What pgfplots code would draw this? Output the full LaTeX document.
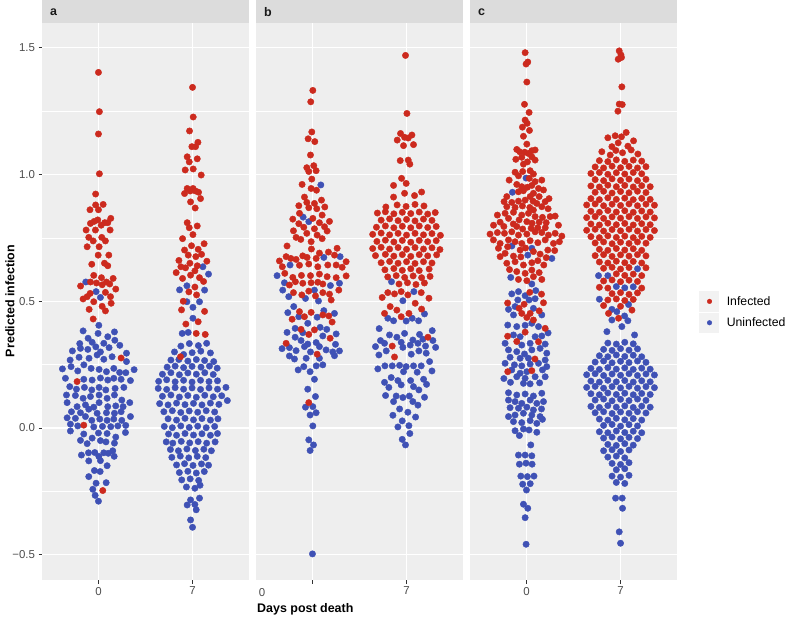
\documentclass[border=0pt]{standalone}
\usepackage{pgfplots}
\pgfplotsset{compat=1.18}
\usepackage{fontspec}
\setmainfont{Liberation Sans}
\definecolor{inf}{HTML}{CC2A1E}
\definecolor{uninf}{HTML}{3F51B5}
\definecolor{panelbg}{HTML}{EEEEEE}
\definecolor{stripbg}{HTML}{DCDCDC}
\definecolor{ticklab}{HTML}{4D4D4D}
\definecolor{tickcol}{HTML}{333333}
\definecolor{keybg}{HTML}{F2F2F2}
\pgfplotsset{
 facet/.style={
  scale only axis, width=207bp, height=557bp,
  xmin=0.4, xmax=2.6, ymin=-0.6, ymax=1.598,
  axis line style={draw=none},
  axis background/.style={fill=panelbg},
  xtick={1,2}, xticklabels={0,7},
  ytick={-0.5,0,0.5,1,1.5},
  minor ytick={-0.25,0.25,0.75,1.25},
  xmajorgrids, ymajorgrids, yminorgrids,
  major grid style={white, line width=1.1bp},
  minor grid style={white, line width=0.55bp},
  tick style={tickcol, line width=0.8bp},
  tick align=outside, major tick length=3.5bp, minor tick length=0pt,
  xtick pos=bottom, ytick pos=left,
  ticklabel style={font=\fontsize{11.5}{13}\selectfont, text=ticklab},
 },
 infp/.style={only marks, mark=*, color=inf, mark size=3.2bp, mark options={solid, line width=0.4pt}},
 uninfp/.style={only marks, mark=*, color=uninf, mark size=3.2bp, mark options={solid, line width=0.4pt}},
}
\begin{document}
\begin{tikzpicture}
\useasboundingbox (0,0) rectangle (787bp,618bp);
% strips
\fill[stripbg] (42bp,595bp) rectangle (249bp,618bp);
\fill[stripbg] (256bp,595bp) rectangle (463bp,618bp);
\fill[stripbg] (470bp,595bp) rectangle (677bp,618bp);
\node[anchor=west, inner sep=0pt, text=black!90, font=\bfseries\fontsize{12.5}{14}\selectfont] at (50bp,605.5bp) {a};
\node[anchor=west, inner sep=0pt, text=black!90, font=\bfseries\fontsize{12.5}{14}\selectfont] at (264bp,605.5bp) {b};
\node[anchor=west, inner sep=0pt, text=black!90, font=\bfseries\fontsize{12.5}{14}\selectfont] at (478bp,605.5bp) {c};
% titles
\node[rotate=90, inner sep=0pt, font=\bfseries\fontsize{12.5}{14}\selectfont] at (10bp,317bp) {Predicted infection};
\node[anchor=west, inner sep=0pt, font=\bfseries\fontsize{12.5}{14}\selectfont] at (257bp,9bp) {Days post death};
\node[inner sep=0pt, text=ticklab, font=\fontsize{11.5}{13}\selectfont] at (262bp,25bp) {0};
% legend key backgrounds
\fill[keybg] (699bp,306bp) rectangle (719bp,327bp);
\fill[keybg] (699bp,285bp) rectangle (719bp,305bp);

% ---------------- panel a ----------------
\begin{axis}[facet, at={(42bp,38bp)}, anchor=south west,
  yticklabels={−0.5,0.0,0.5,1.0,1.5}]
\addplot[uninfp] coordinates {
(0.865,0.576) (0.975,0.538) (1.021,0.515)
(1.004,0.405)
(0.837,0.383) (1.170,0.379) (0.996,0.373)
(0.890,0.354) (1.099,0.360) (0.933,0.338) (1.057,0.334) (1.174,0.346) (0.801,0.333)
(0.723,0.304) (0.809,0.314) (0.887,0.310) (0.972,0.320) (1.021,0.300) (1.113,0.317) (1.227,0.326) (1.298,0.295)
(0.699,0.268) (0.794,0.279) (0.900,0.275) (0.986,0.288) (1.057,0.271) (1.145,0.281) (1.298,0.262)
(0.617,0.233) (0.709,0.242) (0.780,0.225) (0.845,0.249) (0.922,0.235) (1.007,0.231) (1.085,0.222) (1.163,0.235) (1.225,0.219) (1.291,0.218) (1.379,0.230)
(0.649,0.196) (0.844,0.192) (0.933,0.189) (1.021,0.197) (1.099,0.189) (1.163,0.196) (1.241,0.192) (1.340,0.187)
(0.695,0.163) (0.766,0.153) (0.851,0.160) (0.929,0.150) (1.007,0.160) (1.078,0.150) (1.177,0.156) (1.270,0.160)
(0.755,0.128) (0.837,0.117) (0.915,0.124) (1.007,0.130) (1.092,0.117) (1.170,0.130) (1.248,0.110) (0.660,0.130)
(0.667,0.100) (0.773,0.084) (0.862,0.091) (0.950,0.082) (1.007,0.100) (1.099,0.084) (1.184,0.087) (1.333,0.100) (1.262,0.084)
(0.713,0.064) (0.809,0.060) (0.897,0.074) (0.986,0.058) (1.085,0.060) (1.170,0.058) (1.241,0.064)
(0.667,0.040) (0.755,0.038) (0.862,0.045) (0.929,0.030) (1.014,0.035) (1.092,0.030) (1.163,0.035) (1.248,0.030) (1.340,0.045)
(0.702,0.015) (0.780,0.008) (0.950,0.004) (1.043,0.006) (1.131,0.005) (1.206,0.008) (1.290,0.010)
(0.702,-0.012) (1.287,-0.018) (1.092,-0.022) (1.000,-0.020)
(0.844,-0.024) (0.933,-0.040) (1.184,-0.036)
(0.809,-0.049) (1.021,-0.050) (1.170,-0.060) (1.080,-0.055) (0.880,-0.062)
(1.152,-0.090) (1.057,-0.098) (0.894,-0.098) (0.961,-0.097) (0.819,-0.107) (1.004,-0.112) (1.167,-0.112) (1.105,-0.100)
(0.897,-0.130) (1.021,-0.129) (1.092,-0.149)
(0.957,-0.168) (1.018,-0.172) (0.897,-0.192)
(0.975,-0.218) (1.082,-0.216) (0.940,-0.242) (0.965,-0.266) (1.000,-0.289)
(2.110,0.636) (2.170,0.607) (1.862,0.545) (1.940,0.561) (2.128,0.544) (1.940,0.498) (2.074,0.498) (2.004,0.476) (2.004,0.433) (1.954,0.377) (1.890,0.373)
(1.876,0.323) (1.966,0.333) (2.062,0.325) (2.150,0.334)
(1.808,0.300) (1.905,0.290) (1.996,0.297) (2.088,0.303) (2.190,0.296)
(1.770,0.268) (1.855,0.270) (1.950,0.264) (2.040,0.270) (2.128,0.266) (2.225,0.262)
(1.730,0.240) (1.815,0.244) (1.905,0.238) (1.995,0.243) (2.090,0.240) (2.180,0.244) (2.262,0.236)
(1.680,0.212) (1.770,0.218) (1.860,0.210) (1.950,0.217) (2.040,0.212) (2.130,0.218) (2.220,0.211)
(1.640,0.184) (1.725,0.190) (1.815,0.182) (1.905,0.188) (1.995,0.181) (2.085,0.188) (2.175,0.183) (2.265,0.186)
(1.635,0.156) (1.725,0.152) (1.815,0.159) (1.905,0.153) (1.995,0.158) (2.085,0.152) (2.175,0.158) (2.265,0.153) (2.355,0.160)
(1.680,0.125) (1.770,0.130) (1.860,0.122) (1.950,0.128) (2.040,0.121) (2.130,0.129) (2.220,0.123) (2.310,0.127) (2.370,0.108)
(1.650,0.096) (1.740,0.091) (1.830,0.098) (1.920,0.092) (2.010,0.097) (2.100,0.091) (2.190,0.098) (2.280,0.093)
(1.695,0.064) (1.785,0.068) (1.875,0.061) (1.965,0.067) (2.055,0.062) (2.145,0.068) (2.235,0.063)
(1.740,0.036) (1.830,0.031) (1.920,0.038) (2.010,0.032) (2.100,0.037) (2.190,0.031) (2.270,0.036)
(1.700,0.006) (1.785,0.001) (1.875,0.008) (1.965,0.002) (2.055,0.007) (2.145,0.001) (2.235,0.006)
(1.745,-0.024) (1.830,-0.029) (1.920,-0.022) (2.010,-0.028) (2.100,-0.023) (2.190,-0.029) (2.265,-0.022)
(1.720,-0.055) (1.790,-0.060) (1.880,-0.053) (1.970,-0.059) (2.060,-0.054) (2.150,-0.060) (2.240,-0.055)
(1.765,-0.085) (1.850,-0.090) (1.940,-0.083) (2.030,-0.089) (2.120,-0.084) (2.200,-0.090)
(1.780,-0.116) (1.870,-0.111) (1.960,-0.118) (2.050,-0.112) (2.140,-0.117)
(1.830,-0.146) (1.915,-0.141) (2.005,-0.148) (2.095,-0.142) (2.170,-0.147)
(1.860,-0.176) (1.950,-0.171) (2.040,-0.178) (2.125,-0.172)
(1.885,-0.205) (1.975,-0.201) (2.065,-0.207)
(1.935,-0.233) (2.025,-0.238) (2.080,-0.226)
(1.979,-0.284) (2.025,-0.302) (1.943,-0.304) (2.074,-0.277) (2.039,-0.323) (1.979,-0.363) (2.000,-0.392)
};
\addplot[infp] coordinates {
(1.00,1.403) (1.01,1.248) (1.00,1.160) (1.01,1.003) (0.97,0.923) (0.97,0.880) (1.05,0.882) (0.91,0.861) (1.00,0.861)
(0.915,0.807) (0.954,0.815) (0.993,0.821) (1.029,0.800) (1.067,0.810) (1.099,0.810) (1.131,0.827)
(0.869,0.781) (0.968,0.781) (1.124,0.781)
(0.897,0.752) (0.944,0.738) (1.035,0.752) (1.074,0.738)
(0.880,0.715) (1.007,0.715) (0.997,0.682) (1.110,0.682)
(0.929,0.646) (1.064,0.650) (1.099,0.640)
(0.950,0.602) (1.032,0.593) (1.156,0.590) (0.915,0.576) (0.979,0.572) (1.085,0.576) (1.120,0.568) (1.040,0.565)
(0.810,0.560) (1.184,0.548) (0.912,0.531) (1.074,0.535) (0.880,0.518) (1.128,0.518) (0.837,0.509) (0.950,0.498) (1.135,0.492) (1.039,0.480) (1.074,0.462) (0.901,0.468) (0.944,0.430)
(1.241,0.276) (0.773,0.183) (0.844,0.011) (1.046,-0.247)
(2.0,1.344) (2.007,1.227) (1.968,1.172) (1.993,1.110) (2.032,1.110) (2.057,1.127) (1.943,1.070) (1.965,1.050) (2.050,1.062) (1.922,1.018) (2.007,1.022) (2.092,0.998)
(1.915,0.925) (1.943,0.945) (1.975,0.935) (2.005,0.945) (2.032,0.935) (2.064,0.930) (2.085,0.905) (1.979,0.892) (2.028,0.868)
(1.943,0.810) (1.965,0.790) (2.050,0.797) (1.894,0.747) (2.004,0.763)
(1.915,0.702) (1.989,0.719) (2.123,0.727) (2.060,0.705) (2.096,0.685) (1.954,0.682)
(1.855,0.661) (1.876,0.636) (1.926,0.632) (1.972,0.650) (2.035,0.676) (2.152,0.658) (2.050,0.640)
(1.826,0.613) (1.894,0.590) (1.979,0.603) (2.025,0.620) (2.074,0.593) (2.117,0.578)
(1.961,0.537) (2.025,0.556) (2.043,0.525) (1.901,0.500) (1.883,0.466) (2.128,0.460)
(1.929,0.410) (2.060,0.419) (2.039,0.373) (2.135,0.369) (1.872,0.281)
};
\end{axis}

% ---------------- panel b ----------------
\begin{axis}[facet, at={(256bp,38bp)}, anchor=south west,
  yticklabels={}, ytick style={draw=none}, xticklabels={{},7}]
\addplot[uninfp] coordinates {
(1.089,0.959) (0.901,0.832) (0.961,0.814)
(1.121,0.673) (1.294,0.676) (0.762,0.643) (0.624,0.601) (0.702,0.573) (1.191,0.562) (1.287,0.571) (0.684,0.544) (1.021,0.544) (0.748,0.518) (0.926,0.511) (1.064,0.501)
(0.801,0.479) (0.738,0.455) (0.855,0.439) (0.950,0.413) (1.050,0.437) (1.121,0.463) (1.234,0.452) (0.816,0.393) (0.730,0.377) (0.897,0.376) (1.082,0.397) (1.152,0.389) (1.252,0.371)
(0.816,0.358) (0.879,0.345) (0.950,0.331) (1.039,0.337) (1.110,0.363) (1.245,0.330) (0.677,0.313) (0.755,0.317) (0.826,0.305) (0.915,0.321) (0.979,0.300) (1.074,0.321) (1.145,0.308) (1.216,0.300) (1.287,0.304)
(0.755,0.284) (0.809,0.272) (0.933,0.275) (1.074,0.275) (1.234,0.285) (0.848,0.229) (0.908,0.242) (0.975,0.222) (1.040,0.245) (1.110,0.249)
(1.021,0.192) (0.950,0.153) (1.032,0.124) (0.926,0.082) (1.004,0.084) (0.975,0.051) (1.039,0.060) (1.004,0.008) (0.961,-0.047) (1.011,-0.067) (0.975,-0.089) (1.000,-0.497)
(1.840,0.577) (1.961,0.502) (2.078,0.538) (1.801,0.433) (1.862,0.423) (1.996,0.422) (2.060,0.433) (2.128,0.423) (2.191,0.450)
(1.709,0.392) (1.819,0.367) (1.897,0.358) (1.979,0.373) (2.138,0.369) (2.273,0.384) (1.723,0.345) (1.766,0.334) (1.943,0.338) (2.067,0.347) (2.174,0.350) (2.280,0.345)
(1.670,0.321) (1.784,0.304) (1.961,0.318) (2.039,0.327) (2.121,0.334) (2.202,0.323) (2.309,0.318) (1.706,0.288) (2.050,0.291) (2.131,0.304) (2.209,0.295) (2.245,0.262)
(1.695,0.233) (1.770,0.245) (1.848,0.245) (1.926,0.247) (1.996,0.242) (2.074,0.245) (2.156,0.245) (2.270,0.225) (1.968,0.222) (2.113,0.220)
(1.837,0.199) (1.766,0.180) (1.908,0.187) (2.043,0.187) (2.181,0.192) (1.812,0.160) (1.943,0.170) (2.074,0.163) (2.213,0.172) (2.131,0.150)
(1.777,0.128) (1.890,0.126) (1.961,0.120) (2.030,0.126) (2.191,0.121) (1.862,0.104) (2.067,0.104) (2.121,0.090) (1.926,0.075) (2.014,0.062) (1.855,0.050) (2.096,0.043)
(1.908,0.004) (1.954,0.028) (2.025,0.009) (2.035,-0.022) (1.954,-0.045) (1.989,-0.067)
};
\addplot[infp] coordinates {
(1.004,1.332) (0.982,1.287) (0.993,1.168) (0.954,1.141) (1.025,1.130) (0.979,1.077) (0.940,1.027) (1.014,1.035) (0.961,1.012) (1.039,1.015)
(0.890,0.961) (0.993,0.982) (0.986,0.945) (1.043,0.938)
(0.915,0.911) (1.096,0.899) (0.940,0.890) (1.021,0.886) (0.855,0.877) (0.961,0.869) (1.046,0.865) (1.131,0.872)
(0.862,0.847) (1.103,0.840) (0.791,0.824) (1.004,0.827) (1.074,0.810) (1.181,0.815) (0.855,0.806) (0.908,0.792) (1.021,0.786) (1.128,0.794) (0.798,0.778) (0.940,0.768) (1.156,0.777) (1.050,0.761) (0.826,0.752) (0.876,0.744) (1.103,0.747) (0.986,0.735)
(0.730,0.718) (1.262,0.709) (0.989,0.706)
(0.649,0.659) (0.720,0.676) (0.770,0.669) (0.826,0.665) (0.897,0.679) (0.943,0.673) (1.039,0.669) (1.074,0.690) (1.170,0.694) (1.234,0.682) (1.358,0.656)
(0.680,0.636) (0.862,0.642) (0.961,0.647) (1.057,0.636) (1.163,0.643) (1.252,0.643) (1.316,0.634)
(0.706,0.610) (0.791,0.594) (0.883,0.602) (0.979,0.601) (1.074,0.607) (1.156,0.597) (1.252,0.593) (1.358,0.600)
(0.755,0.564) (0.819,0.577) (0.897,0.571) (0.986,0.573) (1.057,0.575) (1.110,0.568)
(0.798,0.534) (0.887,0.525) (0.961,0.540) (1.110,0.534) (1.181,0.528) (1.280,0.544) (1.032,0.521) (1.199,0.505)
(0.862,0.459) (0.986,0.456) (0.915,0.439) (1.110,0.446) (1.174,0.442) (1.209,0.418) (0.784,0.429) (0.879,0.389) (0.961,0.369) (1.021,0.387) (0.720,0.334) (1.188,0.354) (1.050,0.291) (0.961,0.100)
(1.989,1.470) (2.004,1.241) (1.936,1.162) (1.979,1.147) (2.018,1.144) (2.057,1.156) (1.901,1.136) (1.968,1.114) (2.074,1.118) (1.933,1.055) (2.018,1.057) (2.035,1.041) (1.947,0.985) (1.996,0.965) (1.862,0.957) (1.979,0.926) (2.085,0.917) (2.160,0.931) (1.862,0.911)
(1.780,0.872) (1.900,0.880) (1.995,0.874) (2.090,0.882) (2.185,0.876)
(1.690,0.848) (1.775,0.853) (1.865,0.845) (1.955,0.851) (2.045,0.846) (2.135,0.852) (2.225,0.844) (2.305,0.850)
(1.730,0.820) (1.820,0.825) (1.910,0.818) (2.000,0.823) (2.090,0.817) (2.180,0.824) (2.270,0.819)
(1.680,0.792) (1.775,0.797) (1.865,0.790) (1.955,0.796) (2.045,0.790) (2.135,0.797) (2.225,0.791) (2.315,0.795)
(1.640,0.764) (1.730,0.769) (1.820,0.762) (1.910,0.768) (2.000,0.761) (2.090,0.768) (2.180,0.762) (2.270,0.767) (2.360,0.760)
(1.685,0.736) (1.775,0.741) (1.865,0.734) (1.955,0.740) (2.045,0.733) (2.135,0.740) (2.225,0.735) (2.315,0.739)
(1.640,0.708) (1.730,0.713) (1.820,0.706) (1.910,0.712) (2.000,0.705) (2.090,0.712) (2.180,0.706) (2.270,0.711) (2.355,0.704)
(1.670,0.680) (1.775,0.685) (1.865,0.678) (1.955,0.684) (2.045,0.677) (2.135,0.684) (2.225,0.679) (2.320,0.683)
(1.730,0.652) (1.820,0.657) (1.910,0.650) (2.000,0.656) (2.090,0.649) (2.180,0.656) (2.270,0.651)
(1.770,0.624) (1.865,0.629) (1.955,0.622) (2.045,0.628) (2.135,0.621) (2.240,0.627)
(1.800,0.596) (1.890,0.601) (1.980,0.594) (2.070,0.600) (2.160,0.593) (2.250,0.598)
(1.920,0.568) (2.010,0.573) (2.100,0.566) (2.190,0.572)
(1.801,0.534) (1.872,0.529) (1.943,0.538) (2.014,0.525) (2.156,0.534) (1.741,0.515) (2.238,0.512) (2.092,0.492) (1.826,0.479) (1.897,0.465) (1.766,0.452) (2.025,0.452) (2.160,0.469) (1.943,0.439)
(1.848,0.323) (1.872,0.280) (2.227,0.358)
};
\end{axis}

% ---------------- panel c ----------------
\begin{axis}[facet, at={(470bp,38bp)}, anchor=south west,
  yticklabels={}, ytick style={draw=none},
  legend style={at={(1.145,0.481)}, anchor=west, draw=none, fill=none,
    font=\fontsize{12.3}{14}\selectfont, row sep=7bp, inner sep=0pt},
  legend cell align=left,
  legend image code/.code={\draw[#1, mark size=2.3bp] plot coordinates {(0bp,0bp)};}]
\addlegendimage{infp}
\addlegendentry{\hspace{13bp}Infected}
\addlegendimage{uninfp}
\addlegendentry{\hspace{13bp}Uninfected}
\addplot[uninfp, forget plot] coordinates {
(0.996,0.986) (0.851,0.930) (0.845,0.718) (1.270,0.669) (1.014,0.682) (1.057,0.709) (0.833,0.594) (1.057,0.568) (1.099,0.542)
(0.844,0.529) (0.915,0.538) (0.986,0.522) (0.908,0.505) (1.028,0.505) (1.092,0.510) (0.809,0.468) (0.879,0.479) (1.163,0.446) (0.862,0.446) (1.074,0.472)
(0.801,0.406) (0.897,0.400) (0.986,0.405) (1.057,0.413) (1.128,0.400) (0.862,0.367) (0.933,0.360) (1.092,0.360) (1.163,0.363) (0.950,0.327) (1.039,0.334) (1.199,0.331) (0.773,0.334) (1.230,0.375)
(0.809,0.308) (0.897,0.301) (0.979,0.292) (1.057,0.308) (1.145,0.314) (1.216,0.295) (0.826,0.279) (0.933,0.275) (1.021,0.275) (1.199,0.268)
(0.773,0.255) (0.872,0.249) (0.950,0.245) (1.039,0.252) (1.128,0.255) (1.216,0.242) (0.844,0.229) (0.933,0.216) (1.004,0.222) (1.170,0.229)
(0.897,0.202) (0.986,0.196) (1.092,0.202) (1.199,0.202) (0.760,0.195) (0.968,0.176) (1.039,0.174) (0.830,0.180) (1.140,0.178)
(0.809,0.139) (0.897,0.130) (0.986,0.134) (1.074,0.126) (1.163,0.137) (0.809,0.110) (0.879,0.104) (0.950,0.097) (1.039,0.110) (1.110,0.097) (1.181,0.104)
(0.826,0.080) (0.915,0.078) (1.004,0.082) (1.074,0.071) (1.160,0.075)
(0.809,0.045) (0.879,0.051) (0.968,0.058) (1.057,0.051) (1.145,0.045)
(0.862,0.025) (0.950,0.021) (1.039,0.029) (1.110,0.018) (1.170,0.034)
(0.879,-0.011) (0.925,-0.030) (0.968,-0.004) (1.028,-0.008) (1.110,-0.017) (1.046,-0.067)
(0.915,-0.107) (0.986,-0.107) (1.057,-0.110) (0.925,-0.143) (0.995,-0.139) (1.060,-0.143)
(0.940,-0.190) (1.010,-0.192) (1.080,-0.190) (0.960,-0.222) (1.040,-0.220) (1.000,-0.245)
(0.968,-0.301) (1.014,-0.317) (0.986,-0.354) (0.996,-0.459)
(1.766,0.601) (1.865,0.601) (2.180,0.628) (1.955,0.558) (2.045,0.553) (2.135,0.557) (1.775,0.508)
(2.085,0.487) (1.908,0.468) (1.961,0.459) (2.043,0.442) (1.908,0.426) (2.014,0.400) (2.078,0.423) (1.855,0.380) (2.149,0.367)
(1.865,0.335) (1.955,0.331) (2.045,0.338) (2.135,0.332)
(1.820,0.310) (1.910,0.306) (2.000,0.313) (2.090,0.307) (2.180,0.312)
(1.775,0.285) (1.865,0.281) (1.955,0.288) (2.045,0.282) (2.135,0.287) (2.225,0.281)
(1.730,0.260) (1.820,0.264) (1.910,0.257) (2.000,0.263) (2.090,0.258) (2.180,0.264) (2.270,0.259)
(1.685,0.235) (1.775,0.231) (1.865,0.238) (1.955,0.232) (2.045,0.237) (2.135,0.231) (2.225,0.236) (2.315,0.232)
(1.640,0.210) (1.730,0.214) (1.820,0.207) (1.910,0.213) (2.000,0.208) (2.090,0.214) (2.180,0.207) (2.270,0.213) (2.360,0.209)
(1.685,0.185) (1.775,0.181) (1.865,0.188) (1.955,0.182) (2.045,0.187) (2.135,0.181) (2.225,0.186) (2.315,0.182)
(1.640,0.160) (1.730,0.164) (1.820,0.157) (1.910,0.163) (2.000,0.158) (2.090,0.164) (2.180,0.157) (2.270,0.163) (2.360,0.159)
(1.685,0.135) (1.775,0.131) (1.865,0.138) (1.955,0.132) (2.045,0.137) (2.135,0.131) (2.225,0.136) (2.315,0.132)
(1.730,0.110) (1.820,0.114) (1.910,0.107) (2.000,0.113) (2.090,0.108) (2.180,0.114) (2.270,0.109)
(1.685,0.085) (1.775,0.081) (1.865,0.088) (1.955,0.082) (2.045,0.087) (2.135,0.081) (2.225,0.086) (2.315,0.082)
(1.730,0.060) (1.820,0.064) (1.910,0.057) (2.000,0.063) (2.090,0.058) (2.180,0.064) (2.270,0.059)
(1.775,0.035) (1.865,0.031) (1.955,0.038) (2.045,0.032) (2.135,0.037) (2.225,0.031)
(1.820,0.010) (1.910,0.014) (2.000,0.007) (2.090,0.013) (2.180,0.008)
(1.775,-0.015) (1.865,-0.019) (1.955,-0.012) (2.045,-0.018) (2.135,-0.013) (2.225,-0.019)
(1.820,-0.040) (1.910,-0.036) (2.000,-0.043) (2.090,-0.037) (2.180,-0.042)
(1.865,-0.065) (1.955,-0.069) (2.045,-0.062) (2.135,-0.068)
(1.820,-0.090) (1.910,-0.086) (2.000,-0.093) (2.090,-0.087)
(1.865,-0.115) (1.955,-0.111) (2.045,-0.118)
(1.910,-0.140) (2.000,-0.144) (2.090,-0.137)
(1.955,-0.165) (2.045,-0.161)
(1.910,-0.190) (2.000,-0.194) (2.090,-0.187)
(1.955,-0.215) (2.045,-0.219)
(1.947,-0.277) (2.018,-0.277) (2.021,-0.317) (1.986,-0.410) (2.000,-0.455)
};
\addplot[infp, forget plot] coordinates {
(0.986,1.481) (0.996,1.436) (1.014,1.444) (1.004,1.365) (0.979,1.277) (1.028,1.245) (0.986,1.215) (1.007,1.202) (0.957,1.187) (1.032,1.174) (0.968,1.151) (1.004,1.120)
(0.897,1.099) (0.928,1.090) (0.982,1.088) (1.021,1.083) (1.057,1.094) (1.092,1.097) (0.950,1.068) (1.057,1.070) (0.887,1.060) (1.092,1.057) (0.968,1.041) (1.010,1.050)
(0.879,1.009) (0.915,0.995) (1.074,1.002) (1.039,1.015) (0.960,1.012)
(0.816,0.978) (1.092,0.972) (1.163,0.978) (0.897,0.961) (0.950,0.952) (1.057,0.957) (1.030,0.985)
(0.915,0.932) (0.968,0.936) (1.074,0.926) (1.128,0.945) (1.181,0.939) (0.791,0.913) (1.039,0.913) (1.135,0.913) (1.010,0.950)
(0.762,0.893) (0.844,0.890) (0.915,0.895) (0.986,0.899) (1.070,0.895) (1.110,0.886) (1.199,0.893) (1.240,0.905)
(0.791,0.873) (0.879,0.870) (0.957,0.876) (1.035,0.870) (1.074,0.860) (1.163,0.873) (1.230,0.865)
(0.691,0.840) (0.773,0.847) (0.862,0.851) (0.950,0.840) (1.021,0.847) (1.092,0.834) (1.170,0.831) (1.252,0.834)
(0.720,0.812) (0.809,0.827) (0.922,0.821) (1.004,0.814) (1.135,0.812) (1.305,0.836) (1.210,0.810) (0.860,0.805) (1.060,0.808)
(0.897,0.795) (0.650,0.800) (1.340,0.800) (0.760,0.795) (1.120,0.790)
(0.613,0.765) (0.691,0.771) (0.766,0.768) (0.844,0.774) (0.915,0.761) (1.004,0.765) (1.092,0.774) (1.163,0.771) (1.234,0.761) (1.305,0.768) (1.376,0.757) (0.960,0.785) (1.050,0.788) (1.200,0.790)
(0.649,0.742) (0.720,0.728) (0.809,0.742) (0.879,0.735) (0.950,0.728) (1.039,0.739) (1.121,0.731) (1.199,0.742) (1.287,0.728) (1.350,0.735)
(0.702,0.709) (0.773,0.689) (0.862,0.678) (0.933,0.702) (1.074,0.696) (1.145,0.686) (1.227,0.702) (0.720,0.676) (0.800,0.715) (0.990,0.710) (1.300,0.700)
(0.791,0.650) (0.879,0.656) (0.968,0.643) (1.057,0.652) (1.121,0.660) (1.184,0.643) (0.940,0.675) (1.210,0.672)
(0.897,0.617) (0.986,0.610) (1.057,0.623) (1.135,0.613) (0.915,0.586) (1.004,0.581) (1.074,0.597) (1.163,0.586) (0.820,0.625)
(1.035,0.535) (1.160,0.528) (0.800,0.493) (0.975,0.488) (1.181,0.494) (0.950,0.452) (1.039,0.452) (1.135,0.462) (0.922,0.472) (1.074,0.426) (1.004,0.436)
(1.199,0.393) (0.800,0.362) (0.897,0.341) (1.128,0.340) (0.986,0.378) (1.090,0.272) (0.801,0.222) (1.057,0.226)
(1.986,1.488) (2.004,1.472) (1.975,1.455) (2.010,1.462) (2.014,1.346) (1.986,1.278) (2.018,1.276) (1.972,1.250)
(2.060,1.166) (1.865,1.145) (1.943,1.153) (2.010,1.149) (2.138,1.133) (1.975,1.125) (1.908,1.110) (2.078,1.112) (1.801,1.090) (1.950,1.095) (2.113,1.097) (2.184,1.081) (2.021,1.086) (1.890,1.077)
(1.775,1.055) (1.865,1.051) (1.955,1.058) (2.045,1.052) (2.135,1.057) (2.225,1.053)
(1.730,1.030) (1.820,1.026) (1.910,1.033) (2.000,1.027) (2.090,1.032) (2.180,1.026) (2.270,1.031)
(1.685,1.004) (1.775,1.008) (1.865,1.001) (1.955,1.007) (2.045,1.002) (2.135,1.008) (2.225,1.003)
(1.730,0.980) (1.820,0.976) (1.910,0.983) (2.000,0.977) (2.090,0.982) (2.180,0.976) (2.270,0.981)
(1.685,0.955) (1.775,0.951) (1.865,0.958) (1.955,0.952) (2.045,0.957) (2.135,0.951) (2.225,0.956) (2.315,0.952)
(1.730,0.930) (1.820,0.934) (1.910,0.927) (2.000,0.933) (2.090,0.928) (2.180,0.934) (2.270,0.929)
(1.685,0.905) (1.775,0.901) (1.865,0.908) (1.955,0.902) (2.045,0.907) (2.135,0.901) (2.225,0.906) (2.315,0.902)
(1.640,0.880) (1.730,0.884) (1.820,0.877) (1.910,0.883) (2.000,0.878) (2.090,0.884) (2.180,0.877) (2.270,0.883) (2.360,0.879)
(1.685,0.855) (1.775,0.851) (1.865,0.858) (1.955,0.852) (2.045,0.857) (2.135,0.851) (2.225,0.856) (2.315,0.852)
(1.640,0.830) (1.730,0.834) (1.820,0.827) (1.910,0.833) (2.000,0.828) (2.090,0.834) (2.180,0.827) (2.270,0.833) (2.360,0.829)
(1.685,0.805) (1.775,0.801) (1.865,0.808) (1.955,0.802) (2.045,0.807) (2.135,0.801) (2.225,0.806) (2.315,0.802)
(1.640,0.780) (1.730,0.784) (1.820,0.777) (1.910,0.783) (2.000,0.778) (2.090,0.784) (2.180,0.777) (2.270,0.783) (2.360,0.779)
(1.685,0.755) (1.775,0.751) (1.865,0.758) (1.955,0.752) (2.045,0.757) (2.135,0.751) (2.225,0.756) (2.315,0.752)
(1.730,0.730) (1.820,0.734) (1.910,0.727) (2.000,0.733) (2.090,0.728) (2.180,0.734) (2.270,0.729)
(1.775,0.705) (1.865,0.701) (1.955,0.708) (2.045,0.702) (2.135,0.707) (2.225,0.701)
(1.730,0.680) (1.820,0.684) (1.910,0.677) (2.000,0.683) (2.090,0.678) (2.180,0.684) (2.270,0.679)
(1.775,0.655) (1.865,0.651) (1.955,0.658) (2.045,0.652) (2.135,0.657) (2.225,0.651)
(1.820,0.630) (1.910,0.634) (2.000,0.627) (2.090,0.633) (2.270,0.632)
(1.955,0.608) (2.045,0.602) (2.135,0.607) (2.225,0.601)
(1.820,0.580) (1.910,0.584) (2.000,0.577) (2.090,0.583) (2.180,0.578)
(1.775,0.555) (1.865,0.552) (2.225,0.552)
(1.910,0.530) (2.000,0.534) (2.090,0.527) (2.180,0.533)
(1.865,0.505) (1.955,0.509) (2.045,0.503) (2.135,0.507)
(1.820,0.483) (2.000,0.480)
(1.872,0.452) (2.121,0.465) (1.979,0.433)
};
\end{axis}
\end{tikzpicture}
\end{document}
